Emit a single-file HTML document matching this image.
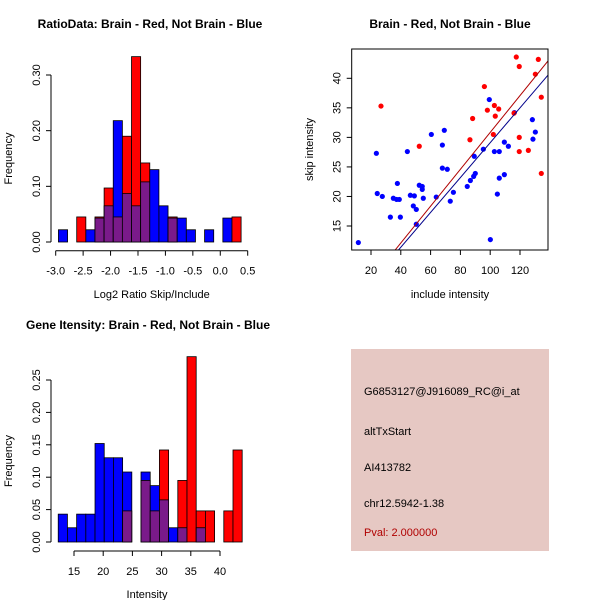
<!DOCTYPE html>
<html><head><meta charset="utf-8">
<style>
html,body{margin:0;padding:0;background:#fff;}
svg{display:block;font-family:"Liberation Sans",sans-serif;}
</style></head>
<body>
<svg id="c" width="600" height="600" xmlns="http://www.w3.org/2000/svg"></svg>
<script>
// ---- Data: ratio histogram ----
const ratioBreakStart = -2.95;
const ratioBinWidth = 0.1665;
const ratioBlue = [0.022,0,0,0.022,0.043,0.065,0.218,0.087,0.065,0.108,0.13,0.065,0.043,0.043,0.022,0,0.022,0,0.043,0];
const ratioRed  = [0,0,0.045,0,0.045,0.097,0.045,0.19,0.333,0.142,0,0,0.045,0,0,0,0,0,0,0.045];
const ratioXTicks = [-3.0,-2.5,-2.0,-1.5,-1.0,-0.5,0.0,0.5];
const ratioYTicks = [0.00,0.10,0.20,0.30];
// ---- Data: intensity histogram ----
const intBreakStart = 12.3;
const intBinWidth = 1.575;
const intBlue = [0.043,0.022,0.043,0.043,0.152,0.13,0.13,0.108,0,0.108,0.087,0.065,0.022,0.022,0,0.022,0,0,0,0];
const intRed  = [0,0,0,0,0,0,0,0.048,0,0.095,0.048,0.142,0,0.095,0.286,0.048,0.048,0,0.048,0.142];
const intXTicks = [15,20,25,30,35,40];
const intYTicks = [0.00,0.05,0.10,0.15,0.20,0.25];
// ---- Data: scatter ----
const redX = [117.5,132.3,119.5,130.3,96.1,134.3,26.7,102.8,98.1,105.7,103.4,116,88.2,102.1,119.5,86.4,52.4,119.5,125.6,134.3];
const redY = [43.6,43.2,42.0,40.7,38.6,36.8,35.3,35.4,34.6,34.8,33.6,34.1,33.2,30.5,30,29.6,28.5,27.6,27.8,23.9];
const blueX = [11.5,23.6,24.2,27.6,33,35,37.7,37.2,39,39.7,44.4,46.4,49.1,48.4,50.4,50.4,52.4,54.4,54.4,55.1,60.5,63.8,67.9,67.9,69.2,71.2,73.2,75.3,84.6,86.7,88.9,89.3,90,95.4,99.4,100.1,102.8,104.8,106.1,106.1,109.5,109.5,112.2,116.2,128.3,128.7,130.3];
const blueY = [12.2,27.3,20.5,20,16.5,19.7,22.2,19.5,19.5,16.5,27.6,20.2,20.1,18.4,17.8,15.3,21.9,21.7,21.2,19.7,30.5,19.9,28.7,24.8,31.2,24.6,19.2,20.7,21.7,22.7,23.4,26.8,23.9,28,36.4,12.7,27.6,20.4,27.6,23.1,29.2,23.7,28.5,34.2,33,29.7,30.9];
const redLine = [-0.36, 0.312];   // intercept, slope
const blueLine = [-0.40, 0.295];
const scXTicks = [20,40,60,80,100,120];
const scYTicks = [15,20,25,30,35,40];

const NS="http://www.w3.org/2000/svg";
const svg=document.getElementById('c');
function mk(tag,attrs,parent,text){
  const e=document.createElementNS(NS,tag);
  for(const k in attrs)e.setAttribute(k,attrs[k]);
  if(text!==undefined)e.textContent=text;
  (parent||svg).appendChild(e);return e;
}
const PURPLE="#7a1a8a";

function histogram(name,g,breakStart,bw,blue,red,xs,ys,xTicks,yTicks,xAxisY,title,titleX,titleY,xlab,xlabY,fmtX,fmtY){
  const grp=mk('g',{},svg);
  
  
  const base=ys(0);
  for(let i=0;i<blue.length;i++){
    const x0=xs(breakStart+i*bw), x1=xs(breakStart+(i+1)*bw);
    const b=blue[i], r=red[i];
    const hi=Math.max(b,r), lo=Math.min(b,r);
    if(hi>0){
      const rc=mk('rect',{x:x0,y:ys(hi),width:x1-x0,height:base-ys(hi),fill:(b>=r?'#0000ff':'#ff0000'),stroke:'#000','stroke-width':0.8},grp);
      
      
    }
    if(lo>0){
      const rc=mk('rect',{x:x0,y:ys(lo),width:x1-x0,height:base-ys(lo),fill:PURPLE,stroke:'#000','stroke-width':0.8},grp);
      
      
    }
  }
  const yA=51;
  mk('line',{x1:yA,x2:yA,y1:ys(yTicks[0]),y2:ys(yTicks[yTicks.length-1]),stroke:'#000'},grp);
  yTicks.forEach(t=>{
    mk('line',{x1:yA-5,x2:yA,y1:ys(t),y2:ys(t),stroke:'#000'},grp);
    const tx=mk('text',{x:0,y:0,'font-size':11,'text-anchor':'middle',transform:`translate(${yA-11},${ys(t)}) rotate(-90)`},grp,fmtY(t));
    
    
  });
  mk('line',{x1:xs(xTicks[0]),x2:xs(xTicks[xTicks.length-1]),y1:xAxisY,y2:xAxisY,stroke:'#000'},grp);
  xTicks.forEach(t=>{
    mk('line',{x1:xs(t),x2:xs(t),y1:xAxisY,y2:xAxisY+5,stroke:'#000'},grp);
    const tx=mk('text',{x:xs(t),y:xAxisY+24,'font-size':11,'text-anchor':'middle'},grp,fmtX(t));
    
    
  });
  const tt=mk('text',{x:titleX,y:titleY,'font-size':12,'font-weight':'bold','text-anchor':'middle'},grp,title);
  
  
  const xl=mk('text',{x:(xs(xTicks[0])+xs(xTicks[xTicks.length-1]))/2,y:xlabY,'font-size':11,'text-anchor':'middle'},grp,xlab);
  
  
  const cy=(ys(yTicks[0])+ys(yTicks[yTicks.length-1]))/2;
  const yl=mk('text',{x:0,y:0,'font-size':11,'text-anchor':'middle',transform:`translate(12,${cy}) rotate(-90)`},grp,'Frequency');
  
  
}

const r_xs=v=>55.7+(v+3.0)*(192/3.5);
const r_ys=v=>242-v*(167/0.30);
histogram('ratio-histogram',null,ratioBreakStart,ratioBinWidth,ratioBlue,ratioRed,r_xs,r_ys,ratioXTicks,ratioYTicks,250.7,
 'RatioData: Brain - Red, Not Brain - Blue',150,28,'Log2 Ratio Skip/Include',298,t=>t.toFixed(1),t=>t.toFixed(2));

const i_xs=v=>74+(v-15)*(146/25);
const i_ys=v=>542-v*(162/0.25);
histogram('intensity-histogram',null,intBreakStart,intBinWidth,intBlue,intRed,i_xs,i_ys,intXTicks,intYTicks,551,
 'Gene Itensity: Brain - Red, Not Brain - Blue',148,329,'Intensity',598,t=>String(t),t=>t.toFixed(2));

(function(){
  const g=mk('g',{});
  
  
  const L=351.7,R=548,T=49,B=250;
  const xs=v=>371+(v-20)*(149/100);
  const ys=v=>226-(v-15)*(147.7/25);
  const cp=mk('clipPath',{id:'scclip'},g);
  mk('rect',{x:L,y:T,width:R-L,height:B-T},cp);
  const pts=mk('g',{'clip-path':'url(#scclip)'},g);
  for(let i=0;i<blueX.length;i++){
    const c=mk('circle',{cx:xs(blueX[i]),cy:ys(blueY[i]),r:2.6,fill:'#0000ff'},pts);
    
    
  }
  for(let i=0;i<redX.length;i++){
    const c=mk('circle',{cx:xs(redX[i]),cy:ys(redY[i]),r:2.6,fill:'#ff0000'},pts);
    
    
  }
  [[redLine,'#b00000','red-fit-line'],[blueLine,'#00008b','blue-fit-line']].forEach(([ln,col,nm])=>{
    const x0=0,x1=150;
    const l=mk('line',{x1:xs(x0),y1:ys(ln[0]+ln[1]*x0),x2:xs(x1),y2:ys(ln[0]+ln[1]*x1),stroke:col,'stroke-width':1},pts);
    
    
  });
  mk('rect',{x:L,y:T,width:R-L,height:B-T,fill:'none',stroke:'#000'},g);
  scXTicks.forEach(t=>{
    mk('line',{x1:xs(t),x2:xs(t),y1:B,y2:B+5,stroke:'#000'},g);
    const tx=mk('text',{x:xs(t),y:B+24,'font-size':11,'text-anchor':'middle'},g,String(t));
    
    
  });
  scYTicks.forEach(t=>{
    mk('line',{x1:L-5,x2:L,y1:ys(t),y2:ys(t),stroke:'#000'},g);
    const tx=mk('text',{x:0,y:0,'font-size':11,'text-anchor':'middle',transform:`translate(${L-11},${ys(t)}) rotate(-90)`},g,String(t));
    
    
  });
  const tt=mk('text',{x:450,y:28,'font-size':12,'font-weight':'bold','text-anchor':'middle'},g,'Brain - Red, Not Brain - Blue');
  
  
  const xl=mk('text',{x:450,y:298,'font-size':11,'text-anchor':'middle'},g,'include intensity');
  
  
  const yl=mk('text',{x:0,y:0,'font-size':11,'text-anchor':'middle',transform:`translate(313,${(T+B)/2}) rotate(-90)`},g,'skip intensity');
  
  
})();

(function(){
  const g=mk('g',{});
  
  
  mk('rect',{x:351,y:349,width:198,height:202,fill:'#e6c8c3'},g);
  const lines=[['G6853127@J916089_RC@i_at',395,'#000','probe-id'],['altTxStart',435,'#000','event-type'],['AI413782',471,'#000','accession'],['chr12.5942-1.38',507,'#000','location'],['Pval: 2.000000',536,'#b00000','p-value']];
  lines.forEach(([t,y,c,n])=>{
    const e=mk('text',{x:364,y:y,'font-size':11,fill:c},g,t);
    
    
  });
})();
</script>
</body></html>
